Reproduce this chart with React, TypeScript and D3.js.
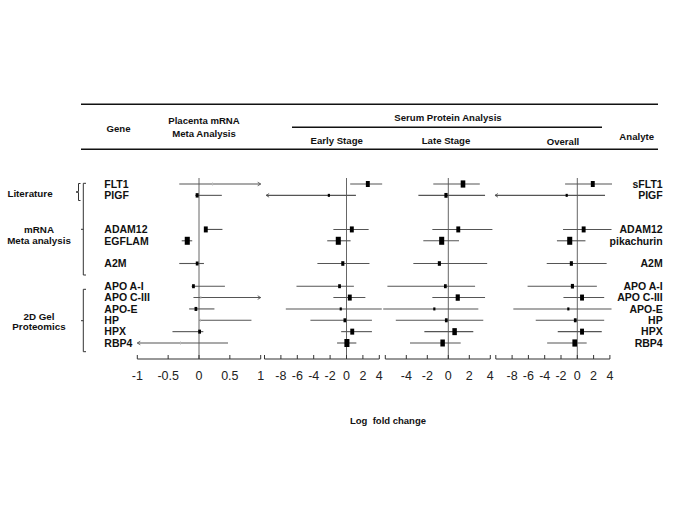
import React from "react";
import * as d3 from "d3";

// ---------- data ----------
const genes = ["FLT1", "PIGF", "ADAM12", "EGFLAM", "A2M", "APO A-I", "APO C-III", "APO-E", "HP", "HPX", "RBP4"];
const analytes = ["sFLT1", "PIGF", "ADAM12", "pikachurin", "A2M", "APO A-I", "APO C-III", "APO-E", "HP", "HPX", "RBP4"];
const rowSlots = [0, 1, 4, 5, 7, 9, 10, 11, 12, 13, 14];

const groupLabels = [["Literature"], ["mRNA", "Meta analysis"], ["2D Gel", "Proteomics"]];

// Placenta mRNA meta analysis
const mrnaEst = [0.22, -0.03, 0.11, -0.19, -0.03, -0.09, 0.03, -0.05, 0.02, 0.01, -0.3];
const mrnaLo = [-0.32, -0.06, 0.09, -0.28, -0.32, -0.12, -0.09, -0.16, 0.0, -0.43, -1.0];
const mrnaHi = [1.0, 0.37, 0.38, -0.11, 0.08, 0.42, 1.0, 0.25, 0.85, 0.07, 0.47];
const mrnaWeight = [0, 1.2, 2, 3, 1, 1, 0, 1, 0, 1, 0];
const mrnaArrow = [1, 0, 0, 0, 0, 0, 1, 0, 0, 0, -1];

// Early stage
const earlyEst = [2.6, -2.15, 0.65, -1.0, -0.45, -0.85, 0.4, -0.7, -0.2, 0.7, 0.05];
const earlyLo = [0.45, -9.8, -1.6, -2.35, -3.55, -6.1, -1.6, -7.4, -4.4, -0.65, -1.15];
const earlyHi = [4.35, 1.15, 2.7, 0.5, 2.8, 0.9, 2.3, 4.3, 3.1, 3.1, 1.2];
const earlyWeight = [2, 0.5, 2, 3, 1.3, 1, 2, 0.5, 1, 2, 3];
const earlyArrow = [0, -1, 0, 0, 0, 0, 0, 0, 0, 0, 0];

// Late stage
const lateEst = [1.4, -0.22, 0.95, -0.63, -0.85, -0.28, 0.9, -1.33, -0.19, 0.6, -0.54];
const lateLo = [-1.43, -2.85, -1.52, -2.38, -3.33, -5.8, -1.52, -6.2, -5.0, -2.28, -3.65];
const lateHi = [3.0, 3.5, 4.2, 1.02, 3.7, 2.55, 3.5, 2.86, 3.33, 2.38, 1.18];
const lateWeight = [2.6, 1.4, 2, 3, 1.3, 1, 2.2, 0.5, 1, 2.5, 2.5];
const lateArrow = [0, 0, 0, 0, 0, 0, 0, 0, 0, 0, 0];

// Overall
const overallEst = [1.9, -1.3, 0.78, -0.93, -0.73, -0.6, 0.58, -1.1, -0.25, 0.58, -0.32];
const overallLo = [-1.5, -10.1, -1.75, -2.5, -3.75, -6.1, -1.7, -7.85, -5.1, -2.4, -3.7];
const overallHi = [4.26, 3.4, 4.2, 1.0, 3.6, 2.4, 3.3, 4.2, 3.3, 3.0, 1.15];
const overallWeight = [2, 0.5, 2, 3, 1.3, 1.3, 2, 0.5, 1, 2, 2.6];
const overallArrow = [0, -1, 0, 0, 0, 0, 0, 0, 0, 0, 0];

const mrnaTicks = [-1, -0.5, 0, 0.5, 1];
const wideTicks = [-10, -8, -6, -4, -2, 0, 2, 4];
const lateTicks = [-6, -4, -2, 0, 2, 4];

// ---------- layout ----------
const W = 685, H = 513;
const FONT = "'Liberation Sans', Arial, sans-serif";
const axisY = 359;
const zeroTop = 178;

const yScale = d3.scaleLinear().domain([0, 14]).range([184, 343]);

type Panel = {
  x: d3.ScaleLinear<number, number>;
  est: number[]; lo: number[]; hi: number[]; w: number[]; arrow: number[];
  ticks: number[]; hidden: number[];
};

const panels: Panel[] = [
  { x: d3.scaleLinear().domain([-1, 1]).range([137.3, 260.7]), est: mrnaEst, lo: mrnaLo, hi: mrnaHi, w: mrnaWeight, arrow: mrnaArrow, ticks: mrnaTicks, hidden: [] },
  { x: d3.scaleLinear().domain([-10, 4]).range([264.5, 379.3]), est: earlyEst, lo: earlyLo, hi: earlyHi, w: earlyWeight, arrow: earlyArrow, ticks: wideTicks, hidden: [-10] },
  { x: d3.scaleLinear().domain([-6, 4]).range([385.3, 490.3]), est: lateEst, lo: lateLo, hi: lateHi, w: lateWeight, arrow: lateArrow, ticks: lateTicks, hidden: [-6] },
  { x: d3.scaleLinear().domain([-10, 4]).range([495.8, 609.9]), est: overallEst, lo: overallLo, hi: overallHi, w: overallWeight, arrow: overallArrow, ticks: wideTicks, hidden: [-10] },
];

const fmt = (v: number) => String(v);

function PanelView({ p }: { p: Panel }) {
  const [x0, x1] = p.x.range();
  return (
    <g>
      <line x1={p.x(0)} x2={p.x(0)} y1={zeroTop} y2={axisY} stroke="#666" strokeWidth={1} />
      {rowSlots.map((slot, i) => {
        const y = yScale(slot);
        const xl = p.x(p.lo[i]);
        const xh = p.x(p.hi[i]);
        const xe = p.x(p.est[i]);
        const wt = p.w[i];
        const bw = 1.6 + wt * 1.15;
        const bh = 2 + wt * 2;
        return (
          <g key={i}>
            <line x1={xl} x2={xh} y1={y} y2={y} stroke="#555" strokeWidth={1.1} />
            {p.arrow[i] === 1 && (
              <path d={`M${xh - 3},${y - 1.8}L${xh},${y}L${xh - 3},${y + 1.8}`} fill="none" stroke="#555" strokeWidth={0.9} />
            )}
            {p.arrow[i] === -1 && (
              <path d={`M${xl + 3},${y - 1.8}L${xl},${y}L${xl + 3},${y + 1.8}`} fill="none" stroke="#555" strokeWidth={0.9} />
            )}
            {wt > 0 ? (
              <rect x={xe - bw / 2} y={y - bh / 2} width={bw} height={bh} fill="#000" />
            ) : (
              <line x1={xe} x2={xe} y1={y - 1.5} y2={y + 1.5} stroke="#bbb" strokeWidth={1} />
            )}
          </g>
        );
      })}
      <line x1={x0} x2={x1} y1={axisY} y2={axisY} stroke="#333" strokeWidth={1.2} />
      {p.ticks.map((t) => (
        <line key={"t" + t} x1={p.x(t)} x2={p.x(t)} y1={axisY - 4} y2={axisY} stroke="#333" strokeWidth={1} />
      ))}
      {p.ticks.filter((t) => !p.hidden.includes(t)).map((t) => (
        <text key={"l" + t} x={p.x(t)} y={380} textAnchor="middle" fontSize={12.5} fill="#222" fontFamily={FONT}>
          {fmt(t)}
        </text>
      ))}
    </g>
  );
}

export default function App() {
  const bold = { fontFamily: FONT, fontWeight: 700, fill: "#111" } as const;
  return (
    <svg width={W} height={H} style={{ position: "absolute", left: 0, top: 0, background: "#fff" }}>
      {/* header */}
      <line x1={81} x2={658} y1={104.3} y2={104.3} stroke="#111" strokeWidth={1.6} />
      <line x1={81} x2={658} y1={149.3} y2={149.3} stroke="#111" strokeWidth={1.6} />
      <line x1={292} x2={602} y1={127.3} y2={127.3} stroke="#111" strokeWidth={1.4} />
      <text x={118.5} y={131.5} textAnchor="middle" fontSize={9.6} {...bold}>Gene</text>
      <text x={204} y={124.3} textAnchor="middle" fontSize={9.6} {...bold}>Placenta mRNA</text>
      <text x={204} y={137.3} textAnchor="middle" fontSize={9.6} {...bold}>Meta Analysis</text>
      <text x={448} y={121} textAnchor="middle" fontSize={9.6} {...bold}>Serum Protein Analysis</text>
      <text x={336.7} y={143.5} textAnchor="middle" fontSize={9.6} {...bold}>Early Stage</text>
      <text x={446} y={143.5} textAnchor="middle" fontSize={9.6} {...bold}>Late Stage</text>
      <text x={563} y={145} textAnchor="middle" fontSize={9.6} {...bold}>Overall</text>
      <text x={636.7} y={139.5} textAnchor="middle" fontSize={9.6} {...bold}>Analyte</text>

      {/* group labels */}
      <text x={30} y={197} textAnchor="middle" fontSize={9.8} {...bold}>{groupLabels[0][0]}</text>
      <text x={39} y={233} textAnchor="middle" fontSize={9.8} {...bold}>{groupLabels[1][0]}</text>
      <text x={39} y={244.4} textAnchor="middle" fontSize={9.8} {...bold}>{groupLabels[1][1]}</text>
      <text x={39} y={319.7} textAnchor="middle" fontSize={9.8} {...bold}>{groupLabels[2][0]}</text>
      <text x={39} y={330.4} textAnchor="middle" fontSize={9.8} {...bold}>{groupLabels[2][1]}</text>

      {/* brackets */}
      <g fill="none" stroke="#333" strokeWidth={1}>
        <path d="M80.5,183.5L78.5,183.5L78.5,191.5L76,192L78.5,192.5L78.5,200.5L80.5,200.5" />
        <path d="M86,183.3L83.3,183.3L83.3,275L86,275" />
        <path d="M83.3,229.3L81,229.3" />
        <path d="M86,289.3L83.3,289.3L83.3,351.7L86,351.7" />
        <path d="M83.3,320.7L81,320.7" />
      </g>

      {/* row labels */}
      {rowSlots.map((slot, i) => (
        <text key={"g" + i} x={104.3} y={yScale(slot) + 3.8} fontSize={10.5} {...bold}>{genes[i]}</text>
      ))}
      {rowSlots.map((slot, i) => (
        <text key={"a" + i} x={662.7} y={yScale(slot) + 3.8} fontSize={10.5} textAnchor="end" {...bold}>{analytes[i]}</text>
      ))}

      {panels.map((p, k) => (
        <PanelView key={k} p={p} />
      ))}

      <text x={388} y={423.5} textAnchor="middle" fontSize={9.5} {...bold} style={{ whiteSpace: "pre" }}>
        {"Log  fold change"}
      </text>
    </svg>
  );
}
